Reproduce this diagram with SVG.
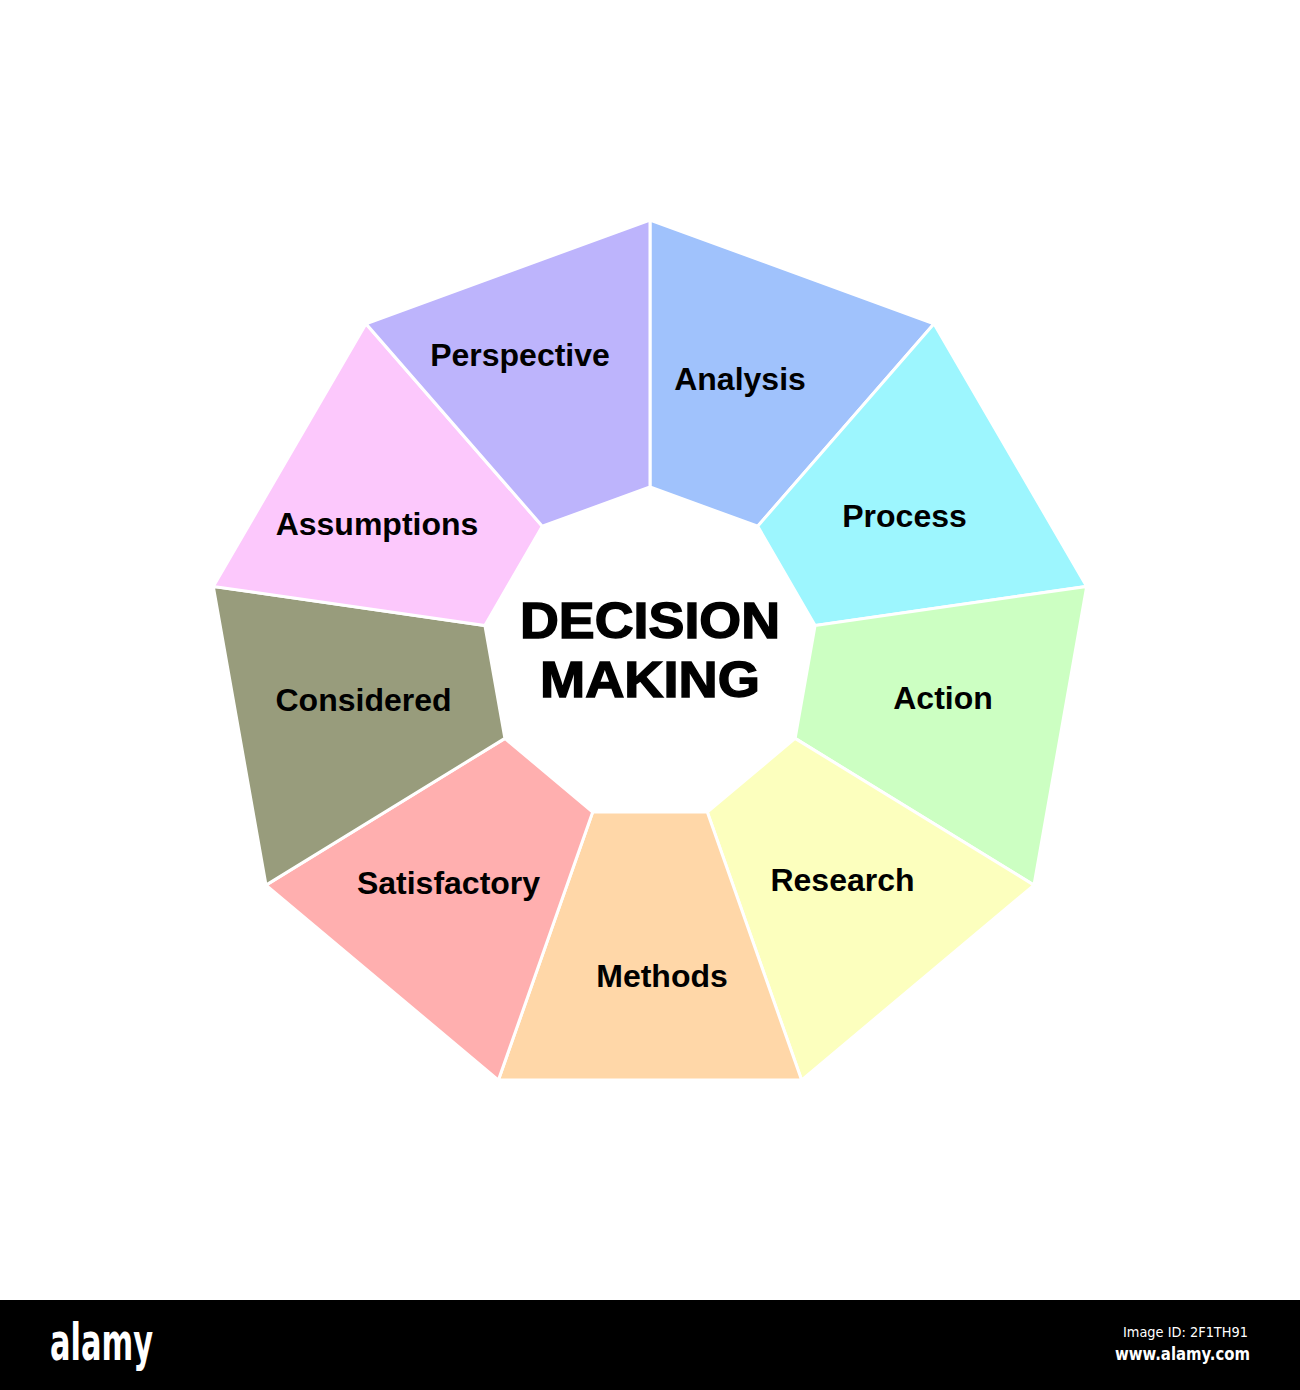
<svg xmlns="http://www.w3.org/2000/svg" width="1300" height="1390" viewBox="0 0 1300 1390">
<style>
.seg{stroke:#ffffff;stroke-width:3;stroke-linejoin:miter}
.lbl{font-family:"Liberation Sans",Arial,sans-serif;font-weight:bold;font-size:32px;fill:#000;text-anchor:middle}
.title{font-family:"Liberation Sans",Arial,sans-serif;font-weight:bold;font-size:50px;fill:#000;stroke:#000;stroke-width:1.4;text-anchor:middle}
.ban{font-family:"DejaVu Sans Condensed","DejaVu Sans",sans-serif;fill:#fff}
</style>
<rect width="1300" height="1390" fill="#ffffff"/>
<g id="analysis">
<polygon class="seg" fill="#A0C2FC" points="650,220 934,323.8 757.7,526.2 650,487"/>
<text class="lbl" x="740" y="390">Analysis</text>
</g>
<g id="process">
<polygon class="seg" fill="#9DF6FE" points="934,323.8 1086.7,586.4 815.1,625.5 757.7,526.2"/>
<text class="lbl" x="904.5" y="527">Process</text>
</g>
<g id="action">
<polygon class="seg" fill="#CCFFC2" points="1086.7,586.4 1034,885.1 795.1,738.4 815.1,625.5"/>
<text class="lbl" x="943" y="709">Action</text>
</g>
<g id="research">
<polygon class="seg" fill="#FCFFBE" points="1034,885.1 801.6,1080.1 707.3,812.1 795.1,738.4"/>
<text class="lbl" x="842.5" y="891">Research</text>
</g>
<g id="methods">
<polygon class="seg" fill="#FFD7A8" points="801.6,1080.1 498.4,1080.1 592.7,812.1 707.3,812.1"/>
<text class="lbl" x="662" y="987">Methods</text>
</g>
<g id="satisfactory">
<polygon class="seg" fill="#FFAFAF" points="498.4,1080.1 266,885.1 504.9,738.4 592.7,812.1"/>
<text class="lbl" x="448.5" y="894">Satisfactory</text>
</g>
<g id="considered">
<polygon class="seg" fill="#989C7C" points="266,885.1 213.3,586.4 484.9,625.5 504.9,738.4"/>
<text class="lbl" x="363.5" y="711">Considered</text>
</g>
<g id="assumptions">
<polygon class="seg" fill="#FCC8FC" points="213.3,586.4 366,323.8 542.3,526.2 484.9,625.5"/>
<text class="lbl" x="377" y="535">Assumptions</text>
</g>
<g id="perspective">
<polygon class="seg" fill="#BDB4FC" points="366,323.8 650,220 650,487 542.3,526.2"/>
<text class="lbl" x="520" y="366">Perspective</text>
</g>
<g id="center">
<text class="title" x="650" y="638" textLength="260" lengthAdjust="spacingAndGlyphs">DECISION</text>
<text class="title" x="650" y="697" textLength="220" lengthAdjust="spacingAndGlyphs">MAKING</text>
</g>
<g id="banner">
<rect x="0" y="1300" width="1300" height="90" fill="#000000"/>
<text class="ban" x="50" y="1360" font-size="52" font-weight="bold" textLength="103" lengthAdjust="spacingAndGlyphs">alamy</text>
<text class="ban" x="1248" y="1337" font-size="14" text-anchor="end" textLength="125" lengthAdjust="spacingAndGlyphs">Image ID: 2F1TH91</text>
<text class="ban" x="1250" y="1360" font-size="17" font-weight="bold" text-anchor="end" textLength="135" lengthAdjust="spacingAndGlyphs">www.alamy.com</text>
</g>
</svg>
